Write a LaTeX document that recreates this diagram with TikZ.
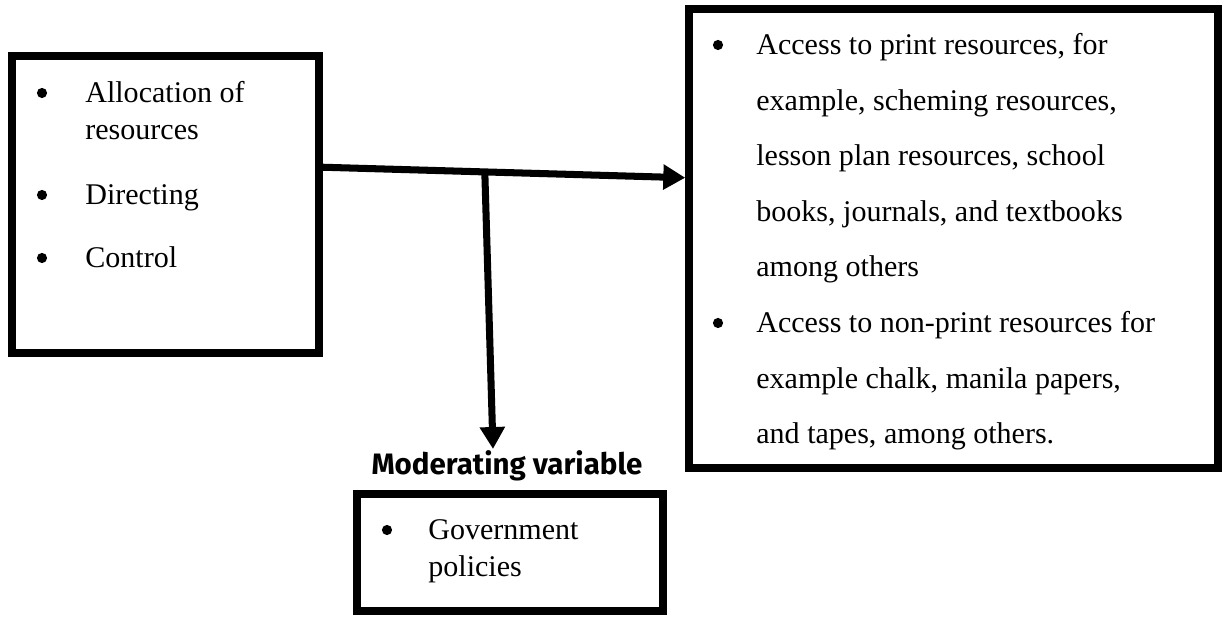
\documentclass[tikz,border=0pt]{standalone}
\usepackage{fontspec}
\setmainfont{Liberation Serif}
\newfontfamily\labelfont{Fira Sans}
\usepackage{tikz}
\usetikzlibrary{arrows.meta,calc}

\tikzset{
  box/.style={draw=black, line width=4.3pt, inner sep=0pt},
  dot/.style={circle, fill=black, inner sep=0pt, minimum size=5.8pt},
  txt/.style={anchor=base west, inner sep=0pt, font=\fontsize{17.1}{21}\selectfont},
  wide/.style={txt, font=\fontsize{17.1}{31.5}\selectfont},
  modlabel/.style={anchor=base, inner sep=0pt, font=\labelfont\bfseries\fontsize{16.8}{20}\selectfont},
  flow/.style={line width=4pt, -{Triangle[length=12.5pt,width=13.7pt]}}
}

\begin{document}
\begin{tikzpicture}[x=0.02cm, y=-0.02cm]
\useasboundingbox (0,0) rectangle (1224,617);

% the three boxes
\node[box, minimum width=6.14cm, minimum height=5.94cm] (ind) at (165.5,204.5) {};
\node[box, minimum width=10.58cm, minimum height=9.18cm] (res) at (953.5,238.5) {};
\node[box, minimum width=6.12cm, minimum height=2.34cm] (pol) at (510,552.5) {};

% left box
\node[dot] (indb1) at (42,93) {};
\node[txt] (ind1) at (85,103) {\begin{tabular}[t]{@{}l@{}}Allocation of\\resources\end{tabular}};
\node[dot] (indb2) at (42,195) {};
\node[txt] (ind2) at (85,205) {Directing};
\node[dot] (indb3) at (42,258) {};
\node[txt] (ind3) at (85,268) {Control};

% right box
\node[dot] (resb1) at (718,45) {};
\node[wide] (res1) at (756,55) {\begin{tabular}[t]{@{}l@{}}Access to print resources, for\\example, scheming resources,\\lesson plan resources, school\\books, journals, and textbooks\\among others\end{tabular}};
\node[dot] (resb2) at (718,323) {};
\node[wide] (res2) at (756,333) {\begin{tabular}[t]{@{}l@{}}Access to non-print resources for\\example chalk, manila papers,\\and tapes, among others.\end{tabular}};

% moderating variable
\node[modlabel] (mod) at (507,475) {Moderating variable};
\node[dot] (polb1) at (387,530) {};
\node[txt] (pol1) at (428,540) {\begin{tabular}[t]{@{}l@{}}Government\\policies\end{tabular}};

% arrows
\draw[flow] ([yshift=-2.3cm]ind.north east) -- coordinate[pos=0.447] (split) ([yshift=-3.45cm]res.north west);
\coordinate (modtip) at (493,449);
\draw[flow] (split) -- (modtip);
\end{tikzpicture}
\end{document}
